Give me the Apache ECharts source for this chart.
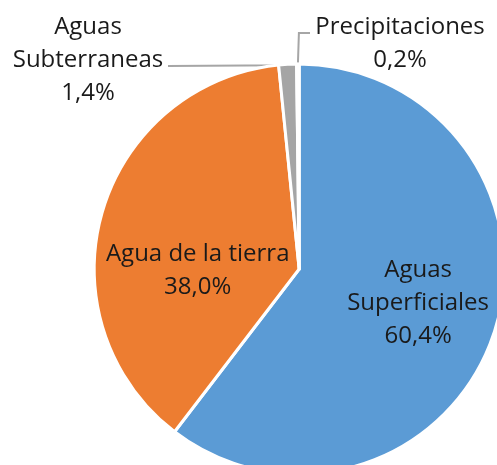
<!DOCTYPE html>
<html>
<head>
<meta charset="utf-8">
<script src="https://cdn.jsdelivr.net/npm/echarts@6/dist/echarts.min.js"></script>
<style>
  html, body { margin: 0; padding: 0; background: #fff; }
  #main { width: 497px; height: 465px; }
</style>
</head>
<body>
<div id="main"></div>
<script>
// datos del grafico
var categorias = ['Aguas Superficiales', 'Agua de la tierra', 'Aguas Subterraneas', 'Precipitaciones'];
var etiquetas = ['Aguas\nSuperficiales', 'Agua de la tierra', 'Aguas\nSubterraneas', 'Precipitaciones'];
var valores = [60.4, 38.0, 1.4, 0.2];
var colores = ['#5B9BD5', '#ED7D31', '#A5A5A5', '#FFC000'];

var chart = echarts.init(document.getElementById('main'));

function pct(v) {
    return v.toFixed(1).replace('.', ',') + '%';
}

var datos = categorias.map(function (c, i) {
    var item = { name: c, value: valores[i] };
    if (i < 2) {
        item.label = {
            position: 'inside',
            offset: i == 0 ? [19, 0] : [0, 30]
        };
        item.labelLine = { show: false };
    } else {
        item.label = { position: 'outside' };
        item.labelLine = { show: true, length: 10, length2: 10 };
    }
    return item;
});

var option = {
    color: colores,
    animation: false,
    series: [{
        type: 'pie',
        center: ['60.2%', '57.85%'],
        radius: 205,
        startAngle: 90,
        avoidLabelOverlap: false,
        itemStyle: { borderColor: '#fff', borderWidth: 3 },
        label: {
            fontFamily: 'Open Sans',
            fontSize: 24,
            lineHeight: 33,
            color: '#1a1a1a',
            align: 'center',
            formatter: function (p) {
                return etiquetas[p.dataIndex] + '\n' + pct(p.value);
            }
        },
        labelLine: {
            lineStyle: { color: '#A6A6A6', width: 2 }
        },
        labelLayout: function (p) {
            var pts = p.labelLinePoints;
            if (p.dataIndex == 2) {
                var s = pts ? pts[0] : [293, 64];
                return {
                    x: 88, y: 60, align: 'center', verticalAlign: 'middle',
                    labelLinePoints: [s, [s[0] - 4, s[1] + 1], [168, 66]]
                };
            }
            if (p.dataIndex == 3) {
                var s2 = pts ? pts[0] : [298, 63];
                return {
                    x: 400, y: 44, align: 'center', verticalAlign: 'middle',
                    labelLinePoints: [s2, [s2[0] + 1, 33], [310, 33]]
                };
            }
        },
        data: datos
    }]
};

chart.setOption(option);
</script>
</body>
</html>
